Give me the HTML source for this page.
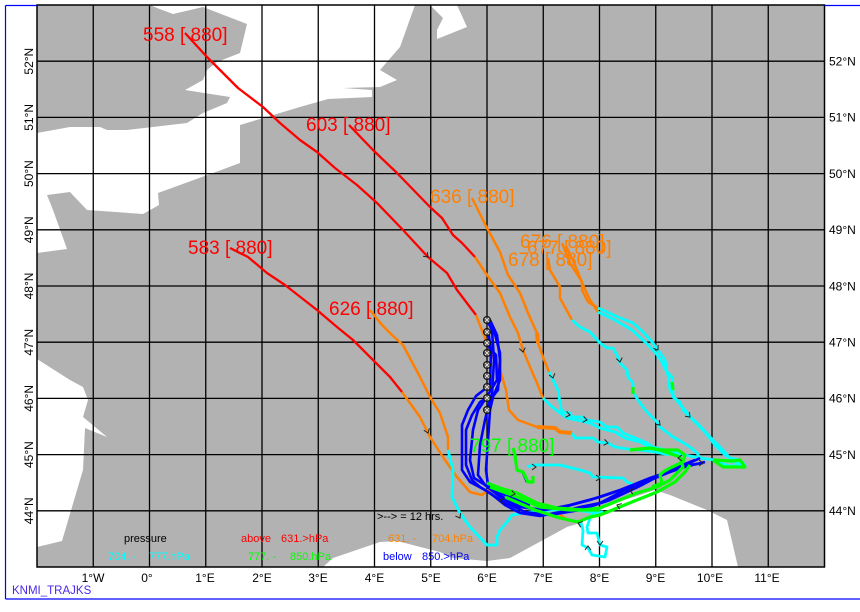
<!DOCTYPE html>
<html><head><meta charset="utf-8"><style>
html,body{margin:0;padding:0;background:#fff;}
svg{display:block;}
text{font-family:"Liberation Sans",Arial,sans-serif;}
</style></head><body>
<svg width="860" height="612" viewBox="0 0 860 612" xmlns="http://www.w3.org/2000/svg">
<rect width="860" height="612" fill="#fff"/>
<!-- land -->
<rect x="37" y="5" width="787.5" height="562" fill="#b2b2b2"/>
<!-- seas -->
<g fill="#fff">
<polygon points="150,5 415,5 400,47 380,70 397,80 380,87 343,88 372,90 372,97 328,99 300,107 240,125 240,163 213,173 158,193 159,205 143,214 87,210 70,192 47,195 53,210 67,249 37,253 37,133 70,127 100,127 107,130 127,130 187,123 203,113 227,103 230,97 185,90 203,80 207,70 217,62 240,53 247,24 203,7 173,14 157,8"/>
<polygon points="430,5 443,18 437,30 437,39 467,27 457,5"/>
<polygon points="37,359 70,380 83,387 88,400 83,417 107,437 85,428 83,470 80,480 62,541 37,547"/>
<polygon points="323,567 333,558 380,542 397,541 440,552 453,558 487,561 510,558 567,527 580,523 600,508 640,495 655,490 670,495 707,510 727,520 738,567"/>
</g>
<!-- grid -->
<g stroke="#000" stroke-width="1.3">
<line x1="93.25" y1="5" x2="93.25" y2="567"/><line x1="149.5" y1="5" x2="149.5" y2="567"/>
<line x1="205.75" y1="5" x2="205.75" y2="567"/><line x1="262" y1="5" x2="262" y2="567"/>
<line x1="318.25" y1="5" x2="318.25" y2="567"/><line x1="374.5" y1="5" x2="374.5" y2="567"/>
<line x1="430.75" y1="5" x2="430.75" y2="567"/><line x1="487" y1="5" x2="487" y2="567"/>
<line x1="543.25" y1="5" x2="543.25" y2="567"/><line x1="599.5" y1="5" x2="599.5" y2="567"/>
<line x1="655.75" y1="5" x2="655.75" y2="567"/><line x1="712" y1="5" x2="712" y2="567"/>
<line x1="768.25" y1="5" x2="768.25" y2="567"/>
<line x1="37" y1="61.2" x2="824.5" y2="61.2"/><line x1="37" y1="117.4" x2="824.5" y2="117.4"/>
<line x1="37" y1="173.6" x2="824.5" y2="173.6"/><line x1="37" y1="229.8" x2="824.5" y2="229.8"/>
<line x1="37" y1="286" x2="824.5" y2="286"/><line x1="37" y1="342.2" x2="824.5" y2="342.2"/>
<line x1="37" y1="398.4" x2="824.5" y2="398.4"/><line x1="37" y1="454.6" x2="824.5" y2="454.6"/>
<line x1="37" y1="510.8" x2="824.5" y2="510.8"/>
</g>
<!-- trajectories -->
<g fill="none" stroke-linejoin="round" stroke-linecap="butt">
<g stroke="#ff0000" stroke-width="2.3">
<polyline points="185,33 207,57 238,88 263,107 280,123 300,140 317,152 335,168 357,185 377,203 403,230 428,257 447,273 457,290 476,315"/>
<polyline points="349,125 373,150 397,173 430,207 442,218 453,235 462,243 475,257"/>
<polyline points="230,248 248,257 267,273 285,285 317,310 337,327 353,340 390,377 402,392"/>
</g>
<g stroke="#ff8000" stroke-width="2.5">
<polyline points="476,315 485,338 492,355 500,370 506,390 509,410 518,420 537,427 555,428 560,432 572,433"/>
<polyline points="475,257 487,275 500,293 510,317 518,333 523,350 530,367 537,383 543,398"/>
<polyline points="472,198 487,228 500,252 508,275 520,293 528,313 537,333 538,343 543,357 549,372"/>
<polyline points="402,392 420,417 430,437 445,460 457,477 470,492 482,495 488,490 513,495 533,503 547,505 557,512 567,520 578,522 583,528"/>
<polyline points="370,310 382,325 392,335 403,345 420,377 430,397 440,413 448,437 448,450"/>
<polyline points="548,258 550,270 560,287 560,298 572,320"/>
<polyline points="562,243 570,263 582,282 582,290 588,302 598,308"/>
<polyline points="566,246 575,265 583,285 590,300 598,312"/>
</g>
<g stroke="#ff8000" stroke-width="4">
<polyline points="537,427 555,428 560,432 572,433"/>
<polyline points="537,333 538,343"/>
</g>
<g stroke="#00ffff" stroke-width="2.8">
<polyline points="572,433 575,438 593,438 598,442 608,443 615,447 628,449 640,450 655,452 670,455"/>
<polyline points="543,398 550,405 560,413 567,418 577,420 590,423 600,428 615,432 625,438 640,442 652,448 665,452 680,455"/>
<polyline points="549,372 553,380 558,390 560,403 562,412 570,413 572,417 582,417 587,420 600,422 607,427 617,427 623,433 633,437 640,440 647,443 653,447 665,450 685,455 700,458"/>
<polyline points="448,450 453,470 452,497 460,513 470,527 487,545 497,545 497,537 500,530 507,522 512,515 530,512 553,510 575,510 590,512 603,512"/>
<polyline points="603,512 593,513 590,518 587,527 588,533 597,533 600,545 607,547 605,557 592,555 588,548 582,545 583,530 580,520"/>
<polyline points="572,320 580,327 590,332 600,343 607,348 613,348 618,357 620,363 627,370 628,377 633,383 633,392 638,400 643,407 647,412 657,422 660,427 673,437 682,442 690,447 697,453 700,458 715,460 735,462"/>
<polyline points="598,308 618,317 633,323 643,332 653,343 660,353 665,360 667,372 672,377 673,387 673,397 680,402 683,410 690,417 697,423 710,437 720,447 730,458 740,460 745,465"/>
<polyline points="598,312 615,320 632,330 645,342 655,352 662,362 668,375 670,390 676,400 685,410 693,420 705,432 715,445 725,455 735,462 745,465 730,466 713,461"/>
<polyline points="527,467 533,465 540,465 560,465 580,470 590,473 593,477 623,478 627,482 635,485"/>
</g>
<g stroke="#0000ff" stroke-width="2.6">
<polyline points="487,320 492,330 494,360 492,395 480,402 472,415 466,430 466,465 472,480 480,487 490,493 505,505 520,513 540,516 560,512 580,507 600,503 623,491 650,480 670,472 690,465 703,463"/>
<polyline points="490,320 497,335 500,360 498,390 490,400 485,420 480,445 478,475 485,485 500,497 520,507 545,510 570,505 600,497 630,487 660,475 690,463 700,458"/>
<polyline points="488,330 491,350 490,385 476,396 468,410 462,425 462,470 470,482 485,490 500,500 525,512 550,515 580,510 610,500 640,486 670,470 695,460"/>
<polyline points="487,345 496,355 497,380 486,398 478,410 473,430 470,460 474,478 490,488 510,502 535,510 560,508 590,500 620,490 650,478 680,468 705,462"/>
<polyline points="493,327 500,353 500,380 493,397 490,410 488,440 486,470 488,485 505,495 530,505"/>
<polyline points="523,473 527,482"/>
</g>
<g stroke="#00ff00" stroke-width="3.2">
<polyline points="513,448 515,455 517,470 523,472 528,482 533,482 533,476"/>
<polyline points="487,483 500,488 517,493 537,503 557,508 583,510 600,508 637,493 657,487 670,480 683,467 680,457 660,450 650,448 630,450"/>
<polyline points="490,487 517,497 540,507 570,510 600,510"/>
<polyline points="505,497 535,510 560,518 578,522 590,517 600,515 637,500 657,492 675,482 685,472 690,465"/>
<polyline points="650,448 660,450 678,450 685,455 683,462 670,468 663,472 660,475 662,483 652,487"/>
<polyline points="713,460 723,467 745,467 740,460 733,461 713,460"/>
<polyline points="672,382 673,390"/>
<polyline points="633,387 633,394"/>
</g>
</g>
<!-- arrows -->
<g fill="none" stroke="#222" stroke-width="1">
<path d="M-4,-3 L0,0 L-4,3" transform="translate(428,257) rotate(45)"/>
<path d="M-4,-3 L0,0 L-4,3" transform="translate(523,352) rotate(80)"/>
<path d="M-4,-3 L0,0 L-4,3" transform="translate(553,378) rotate(75)"/>
<path d="M-4,-3 L0,0 L-4,3" transform="translate(428,433) rotate(70)"/>
<path d="M-4,-3 L0,0 L-4,3" transform="translate(460,518) rotate(60)"/>
<path d="M-4,-3 L0,0 L-4,3" transform="translate(570,415) rotate(10)"/>
<path d="M-4,-3 L0,0 L-4,3" transform="translate(587,420) rotate(10)"/>
<path d="M-4,-3 L0,0 L-4,3" transform="translate(608,443) rotate(10)"/>
<path d="M-4,-3 L0,0 L-4,3" transform="translate(620,362) rotate(80)"/>
<path d="M-4,-3 L0,0 L-4,3" transform="translate(658,350) rotate(55)"/>
<path d="M-4,-3 L0,0 L-4,3" transform="translate(660,425) rotate(45)"/>
<path d="M-4,-3 L0,0 L-4,3" transform="translate(690,417) rotate(45)"/>
<path d="M-4,-3 L0,0 L-4,3" transform="translate(536,467) rotate(0)"/>
<path d="M-4,-3 L0,0 L-4,3" transform="translate(600,478) rotate(0)"/>
<path d="M-4,-3 L0,0 L-4,3" transform="translate(515,494) rotate(10)"/>
<path d="M-4,-3 L0,0 L-4,3" transform="translate(678,458) rotate(180)"/>
<path d="M-4,-3 L0,0 L-4,3" transform="translate(703,463) rotate(0)"/>
<path d="M-4,-3 L0,0 L-4,3" transform="translate(600,545) rotate(90)"/>
<path d="M-4,-3 L0,0 L-4,3" transform="translate(588,546) rotate(-90)"/>
<path d="M-4,-3 L0,0 L-4,3" transform="translate(578,523) rotate(200)"/>
<path d="M-4,-3 L0,0 L-4,3" transform="translate(630,490) rotate(200)"/>
<path d="M-4,-3 L0,0 L-4,3" transform="translate(617,505) rotate(200)"/>
<path d="M-4,-3 L0,0 L-4,3" transform="translate(500,500) rotate(200)"/>
</g>
<!-- markers -->
<g stroke="#111" stroke-width="1">
<g fill="#555">
<circle cx="487" cy="320" r="3.5"/><circle cx="487" cy="332" r="3.5"/><circle cx="487" cy="343" r="3.5"/>
<circle cx="487" cy="353" r="3.5"/><circle cx="487" cy="365" r="3.5"/><circle cx="487" cy="376" r="3.5"/>
<circle cx="487" cy="387" r="3.5"/><circle cx="487" cy="398" r="3.5"/><circle cx="487" cy="410" r="3.5"/>
</g>
<path d="M485,318l4,4m0,-4l-4,4 M485,330l4,4m0,-4l-4,4 M485,341l4,4m0,-4l-4,4 M485,351l4,4m0,-4l-4,4 M485,363l4,4m0,-4l-4,4 M485,374l4,4m0,-4l-4,4 M485,385l4,4m0,-4l-4,4 M485,396l4,4m0,-4l-4,4 M485,408l4,4m0,-4l-4,4" stroke="#ddd"/>
</g>
<!-- trajectory labels -->
<g font-size="19">
<text x="143" y="41" fill="#ff0000" xml:space="preserve">558 [ 880]</text>
<text x="306" y="131" fill="#ff0000" xml:space="preserve">603 [ 880]</text>
<text x="430" y="203" fill="#ff8000" xml:space="preserve">636 [ 880]</text>
<text x="188" y="254" fill="#ff0000" xml:space="preserve">583 [ 880]</text>
<text x="329" y="315" fill="#ff0000" xml:space="preserve">626 [ 880]</text>
<text x="520" y="248" fill="#ff8000" xml:space="preserve">676 [ 880]</text>
<text x="527" y="254" fill="#ff8000" xml:space="preserve">677 [ 880]</text>
<text x="508" y="266" fill="#ff8000" xml:space="preserve">678 [ 880]</text>
<text x="470" y="452" fill="#00ff00" xml:space="preserve">797 [ 880]</text>
</g>
<!-- frame -->
<rect x="37" y="5" width="787.5" height="562" fill="none" stroke="#000" stroke-width="1.5"/>
<!-- blue outer border -->
<g stroke="#0000ff" stroke-width="1.2">
<line x1="5.5" y1="5.5" x2="37" y2="5.5"/>
<line x1="824.5" y1="5.5" x2="860" y2="5.5"/>
<line x1="5.5" y1="5.5" x2="5.5" y2="599"/>
<line x1="5.5" y1="599" x2="860" y2="599"/>
</g>
<!-- legend -->
<g font-size="11">
<text x="377" y="520" fill="#000">&gt;--&gt; = 12 hrs.</text>
<text x="124" y="542" fill="#000">pressure</text>
<text x="241" y="542" fill="#ff0000">above</text>
<text x="281" y="542" fill="#ff0000">631.&gt;hPa</text>
<text x="388" y="542" fill="#ff8000">631. -</text>
<text x="432" y="542" fill="#ff8000">704.hPa</text>
<text x="108" y="560" fill="#00ffff">704. -</text>
<text x="149" y="560" fill="#00ffff">777.hPa</text>
<text x="248" y="560" fill="#00ff00">777. -</text>
<text x="290" y="560" fill="#00ff00">850.hPa</text>
<text x="383" y="560" fill="#0000ff">below</text>
<text x="422" y="560" fill="#0000ff">850.&gt;hPa</text>
</g>
<text x="12" y="594" font-size="11.5" fill="#4b28e6">KNMI_TRAJKS</text>
<!-- axis labels -->
<g font-size="12" fill="#000">
<g text-anchor="middle">
<text x="93" y="582">1°W</text><text x="147" y="582">0°</text><text x="205" y="582">1°E</text>
<text x="262" y="582">2°E</text><text x="318" y="582">3°E</text><text x="374.5" y="582">4°E</text>
<text x="431" y="582">5°E</text><text x="487" y="582">6°E</text><text x="543" y="582">7°E</text>
<text x="599.5" y="582">8°E</text><text x="655.5" y="582">9°E</text><text x="710" y="582">10°E</text>
<text x="767" y="582">11°E</text>
<text transform="translate(33,61.2) rotate(-90)">52°N</text>
<text transform="translate(33,117.4) rotate(-90)">51°N</text>
<text transform="translate(33,173.6) rotate(-90)">50°N</text>
<text transform="translate(33,229.8) rotate(-90)">49°N</text>
<text transform="translate(33,286) rotate(-90)">48°N</text>
<text transform="translate(33,342.2) rotate(-90)">47°N</text>
<text transform="translate(33,398.4) rotate(-90)">46°N</text>
<text transform="translate(33,454.6) rotate(-90)">45°N</text>
<text transform="translate(33,510.8) rotate(-90)">44°N</text>
</g>
<text x="829" y="65.5">52°N</text><text x="829" y="121.7">51°N</text><text x="829" y="177.9">50°N</text>
<text x="829" y="234.1">49°N</text><text x="829" y="290.3">48°N</text><text x="829" y="346.5">47°N</text>
<text x="829" y="402.7">46°N</text><text x="829" y="458.9">45°N</text><text x="829" y="515.1">44°N</text>
</g>
</svg>
</body></html>
